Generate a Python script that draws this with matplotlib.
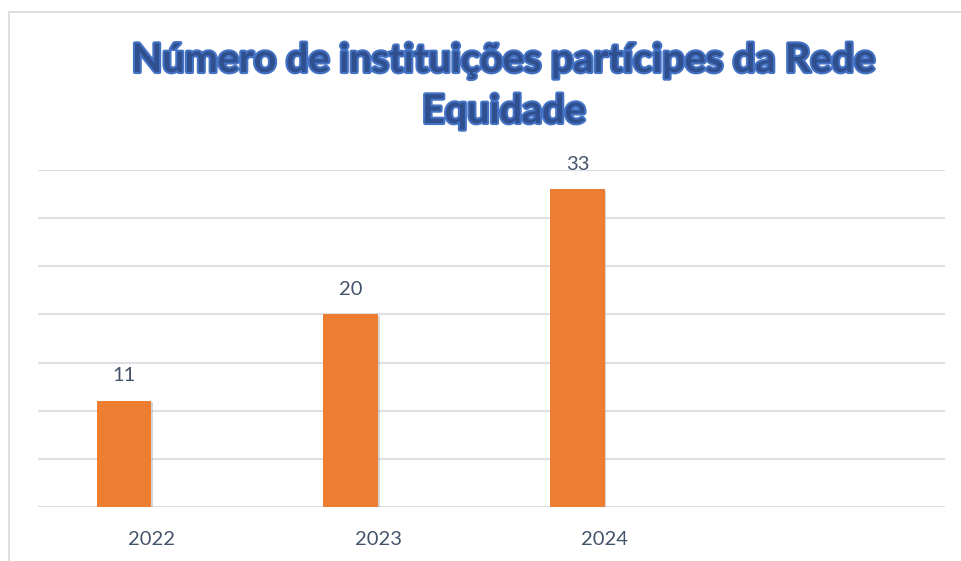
import matplotlib.pyplot as plt
import matplotlib.patheffects as pe
from matplotlib.patches import Rectangle
import numpy as np

# data
categories = ["2022", "2023", "2024", ""]
values = [11, 20, 33, None]
title = "Número de instituições partícipes da Rede\nEquidade"

W, H = 962, 561
fig = plt.figure(figsize=(W / 100, H / 100), dpi=100)

# chart frame (only top and left edges are visible)
fig.patches.append(Rectangle((9 / W, -0.5), 2, 1.5 - 12 / H, transform=fig.transFigure,
                             fill=False, edgecolor="#D9D9D9", linewidth=1.2))

ax = fig.add_axes([38 / W, 54 / H, (945 - 38) / W, (507 - 170) / H])
x = np.arange(len(categories))
bw = 0.242
vals = [v if v is not None else 0 for v in values]
bars = ax.bar(x - bw / 2, vals, width=bw, color="#ED7D31", zorder=3,
              path_effects=[pe.SimplePatchShadow(offset=(1, -1), shadow_rgbFace="#999999", alpha=0.4), pe.Normal()])
for xi, v in zip(x, values):
    if v is not None:
        ax.annotate(str(v), (xi - bw / 2, v), xytext=(0, 12), textcoords="offset points",
                    ha="center", va="bottom", fontsize=14.5, color="#44546A", family="Lato")

ax.set_xlim(-0.5, len(categories) - 0.5)
ax.set_ylim(0, 35)
ax.set_yticks(np.arange(0, 36, 5))
ax.yaxis.grid(True, color="#DDE1E6", linewidth=1.5, zorder=0)
ax.tick_params(axis="y", left=False, labelleft=False)
ax.set_xticks(x)
ax.set_xticklabels(categories, fontsize=14.5, color="#44546A", family="Lato")
ax.tick_params(axis="x", bottom=False, pad=14)
for s in ax.spines.values():
    s.set_visible(False)

fig.text(504 / W, 1 - 86 / H, title, ha="center", va="center", fontsize=28.5,
         fontweight="bold", family="Lato", color="#2F4F8F", linespacing=1.45,
         path_effects=[pe.withStroke(linewidth=3, foreground="#4472C4")])

fig.savefig("out.png", dpi=100)
